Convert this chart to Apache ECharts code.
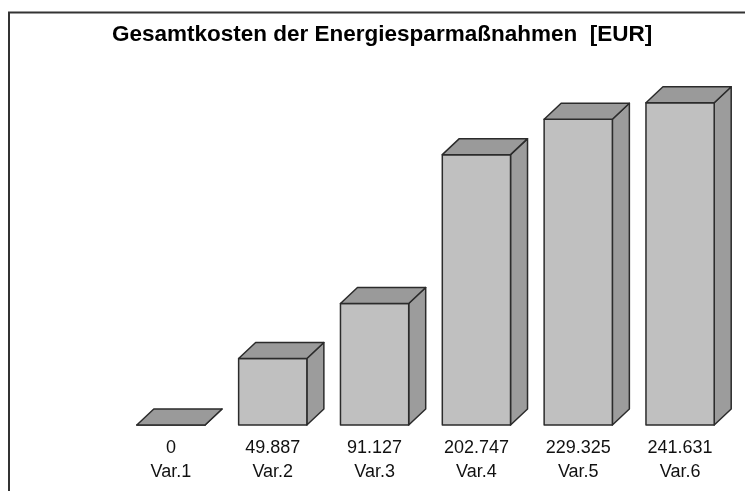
<!DOCTYPE html>
<html>
<head>
<meta charset="utf-8">
<script src="https://cdn.jsdelivr.net/npm/echarts@6/dist/echarts.min.js"></script>
<style>
  html, body { margin: 0; padding: 0; background: #fff; }
  #chart { width: 745px; height: 491px; }
</style>
</head>
<body>
<div id="chart"></div>
<script>
  // Daten
  var categories = ['Var.1', 'Var.2', 'Var.3', 'Var.4', 'Var.5', 'Var.6'];
  var kosten = [0, 49887, 91127, 202747, 229325, 241631];
  var titel = 'Gesamtkosten der Energiesparmaßnahmen  [EUR]';

  // Tausenderpunkt wie im Original
  function fmt(v) {
    return String(v).replace(/\B(?=(\d{3})+(?!\d))/g, '.');
  }

  var DX = 17, DY = 16; // Tiefe der 3D-Säulen

  function renderBar(params, api) {
    var x = api.value(0);
    var base = api.coord([x, 0]);
    var top = api.coord([x, api.value(1)]);
    var hw = api.size([1, 0])[0] * 0.335;
    var l = base[0] - hw, r = base[0] + hw, b = base[1], t = top[1];
    var line = { stroke: '#2b2b2b', lineWidth: 1.5, lineJoin: 'round' };
    return {
      type: 'group',
      children: [
        { // Seite
          type: 'polygon',
          shape: { points: [[r, b], [r + DX, b - DY], [r + DX, t - DY], [r, t]] },
          style: Object.assign({ fill: '#9c9c9c' }, line)
        },
        { // Front
          type: 'rect',
          shape: { x: l, y: t, width: r - l, height: b - t },
          style: Object.assign({ fill: '#c0c0c0' }, line)
        },
        { // Deckel
          type: 'polygon',
          shape: { points: [[l, t], [r, t], [r + DX, t - DY], [l + DX, t - DY]] },
          style: Object.assign({ fill: '#9a9a9a' }, line)
        }
      ]
    };
  }

  var chart = echarts.init(document.getElementById('chart'));
  chart.setOption({
    backgroundColor: '#fff',
    animation: false,
    title: {
      text: titel,
      left: 112,
      top: 23,
      padding: 0,
      textStyle: { fontFamily: 'Liberation Sans, Arial', fontWeight: 'bold', fontSize: 22.5, color: '#000' }
    },
    graphic: [{
      type: 'polyline',
      shape: { points: [[9, 491], [9, 12.5], [745, 12.5]] },
      style: { stroke: '#333', lineWidth: 2, fill: null }
    }],
    grid: { left: 120, right: 14, top: 25, bottom: 66 },
    xAxis: {
      type: 'category',
      data: categories,
      axisLine: { show: false },
      axisTick: { show: false },
      axisLabel: {
        margin: 11,
        fontFamily: 'Liberation Sans, Arial',
        fontSize: 18,
        lineHeight: 24,
        color: '#111',
        formatter: function (v, i) { return fmt(kosten[i]) + '\n' + v; }
      }
    },
    yAxis: {
      type: 'value',
      min: 0,
      max: 300000,
      show: false,
      splitLine: { show: false }
    },
    series: [{
      type: 'custom',
      renderItem: renderBar,
      clip: false,
      data: kosten.map(function (v, i) { return [i, v]; })
    }]
  });
</script>
</body>
</html>
